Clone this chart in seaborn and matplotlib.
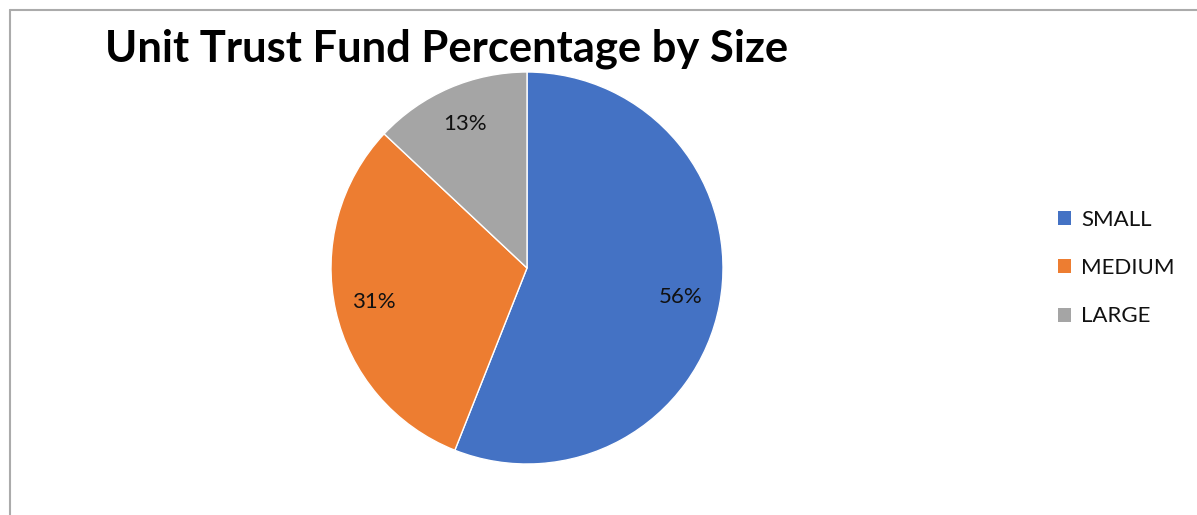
import matplotlib
matplotlib.use("Agg")
import matplotlib.pyplot as plt
import seaborn as sns
from matplotlib.patches import Rectangle
from matplotlib.lines import Line2D

sns.set_theme(style="white")
plt.rcParams['font.family'] = ['Lato', 'DejaVu Sans']

categories = ["SMALL", "MEDIUM", "LARGE"]
values = [56, 31, 13]
colors = ["#4472C4", "#ED7D31", "#A5A5A5"]
title = "Unit Trust Fund Percentage by Size"

W, H = 1197, 515
fig = plt.figure(figsize=(W / 100, H / 100), dpi=100)
fig.patch.set_facecolor("white")

# border (top and left visible)
fig.add_artist(Line2D([10 / W, 10 / W], [0, 1 - 10 / H], transform=fig.transFigure,
                      color="#ABABAB", lw=1.5))
fig.add_artist(Line2D([10 / W, 1], [1 - 10 / H, 1 - 10 / H], transform=fig.transFigure,
                      color="#ABABAB", lw=1.5))

cx, cy, r = 527, 268, 196
ax = fig.add_axes([(cx - r) / W, (H - cy - r) / H, 2 * r / W, 2 * r / H])
wedges, texts, autotexts = ax.pie(
    values, colors=colors, startangle=90, counterclock=False,
    autopct=lambda p: f"{p:.0f}%", pctdistance=0.8,
    wedgeprops=dict(edgecolor="white", linewidth=1),
    textprops=dict(fontsize=16, color="#111111"))
ax.set_xlim(-1, 1)
ax.set_ylim(-1, 1)
ax.set_aspect("equal")
ax.axis("off")

fig.text(447 / W, 1 - 49 / H, title, ha="center", va="center",
         fontsize=31.3, fontweight="bold", color="black")

handles = [Rectangle((0, 0), 1, 1, facecolor=c, edgecolor="none") for c in colors]
fig.legend(handles, categories, loc="center left", bbox_to_anchor=(1038 / W, 1 - 268 / H),
           frameon=False, fontsize=16, handlelength=0.6, handleheight=0.6,
           handletextpad=0.45, labelspacing=1.28, labelcolor="#111111")

fig.savefig("out.png", dpi=100)
